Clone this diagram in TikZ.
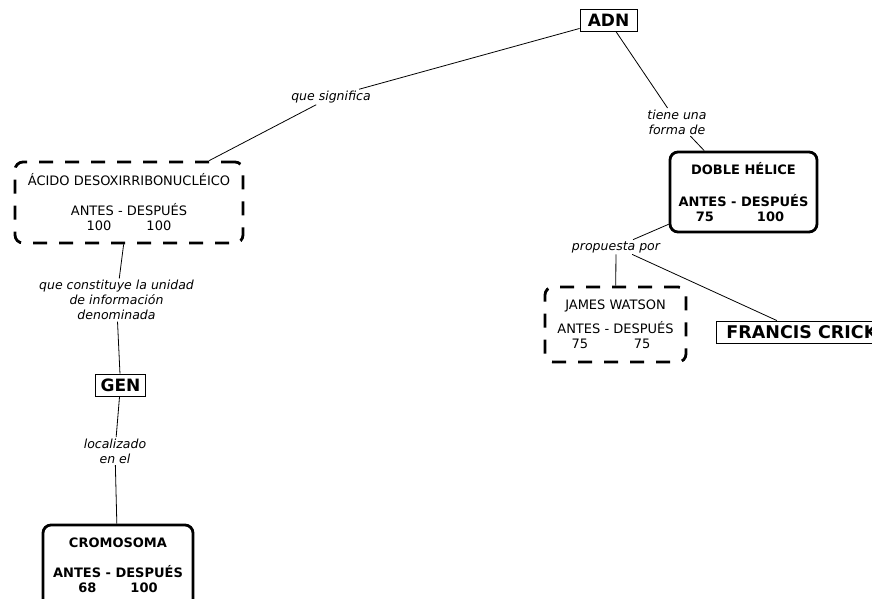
\documentclass[tikz,border=0pt]{standalone}
\usepackage{fontspec}
\setmainfont{DejaVu Sans}
\usepackage{tikz}
\tikzset{plain/.style = {shape=rectangle,draw,line width=0.9pt,font=\fontsize{17}{19}\selectfont\bfseries,inner sep=0pt,minimum height=22pt}}
\tikzset{solidbox/.style = {shape=rectangle,draw,rounded corners=8pt,line width=2.8pt,align=center,inner sep=0pt,font=\fontsize{13}{15}\selectfont}}
\tikzset{dashbox/.style = {solidbox,dash pattern=on 14pt off 12pt}}
\tikzset{link/.style = {font=\fontsize{12.5}{15}\selectfont\itshape,align=center,inner sep=1.5pt}}
\tikzset{edge/.style = {draw,line width=0.8pt}}

\begin{document}
\begin{tikzpicture}[x=1pt,y=-1pt]
            \fill[white] (0,0) rectangle (872,598);
            \useasboundingbox (0,0) rectangle (872,598);
            \clip (0,0) rectangle (872,598);

            % Concepts
            \node[plain,minimum width=57pt] (adn) at (608.5,20.5) {ADN};
            \node[dashbox,minimum width=228pt,minimum height=81pt] (acido) at (129,202.5)
                {ÁCIDO DESOXIRRIBONUCLÉICO\\[15pt]ANTES - DESPUÉS\\100\hspace{35pt}100};
            \node[solidbox,font=\fontsize{13}{15}\selectfont\bfseries,minimum width=147pt,minimum height=80pt] (helice) at (743.5,192)
                {DOBLE HÉLICE\\[17pt]ANTES - DESPUÉS\\75\hspace{43pt}100\kern7pt};
            \node[dashbox,minimum width=141pt,minimum height=75pt] (watson) at (615.5,324.5)
                {JAMES WATSON\\[9pt]ANTES - DESPUÉS\\75\hspace{45.5pt}75\kern9pt};
            \node[plain,anchor=west,inner xsep=10pt,font=\fontsize{17.5}{19}\selectfont\bfseries] (crick) at (716,332) {FRANCIS CRICK};
            \node[plain,minimum width=50pt] (gen) at (120.5,385) {GEN};
            \node[solidbox,font=\fontsize{13}{15}\selectfont\bfseries,minimum width=150pt,minimum height=90pt,text depth=10pt] (cromo) at (118,570)
                {CROMOSOMA\\[15pt]ANTES - DESPUÉS\\68\hspace{34pt}100};

            % Links
            \node[link] (significa) at (331,97) {que significa};
            \node[link] (forma) at (677,122) {tiene una\\forma de};
            \node[link] (propuesta) at (616,247) {propuesta por};
            \node[link] (constituye) at (116.5,300) {que constituye la unidad\\de información\\denominada};
            \node[link] (localizado) at (115,451) {localizado\\en el};

            % Edges
            \draw[edge] (adn) -- (significa) -- (acido);
            \draw[edge] (adn) -- (forma) -- (helice);
            \draw[edge] (helice) -- (propuesta) -- (watson);
            \draw[edge] (propuesta) -- (crick);
            \draw[edge] (acido) -- (constituye) -- (gen);
            \draw[edge] (gen) -- (localizado) -- (cromo);
        \end{tikzpicture}
\end{document}
